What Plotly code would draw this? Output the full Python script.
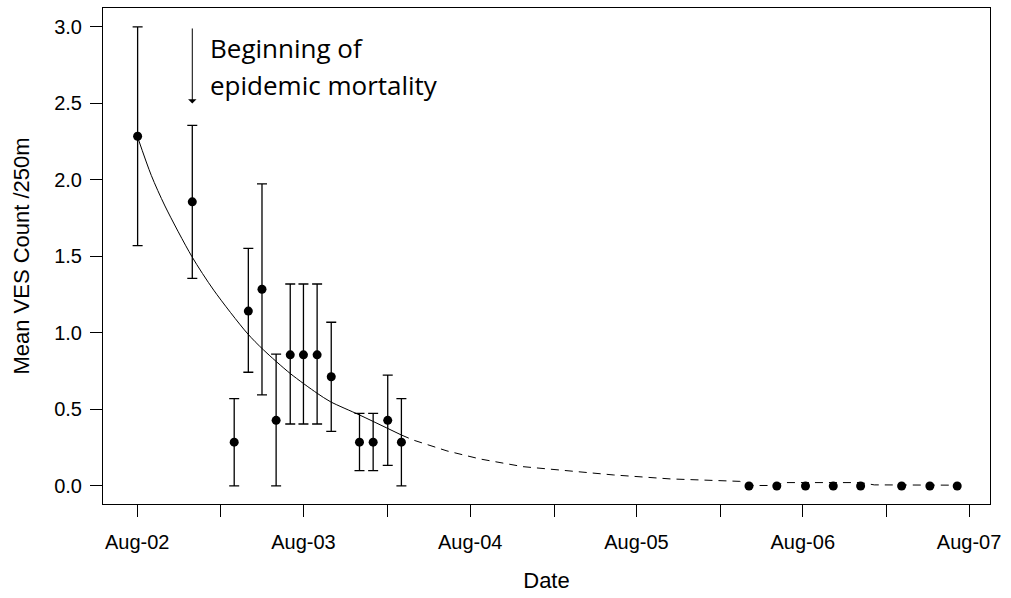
import plotly.graph_objects as go

# Observed survey means with 95% CI bounds
obs_dates = ["2002-08-02", "2002-11-30", "2003-03-02", "2003-04-02", "2003-05-02",
             "2003-06-02", "2003-07-03", "2003-08-01", "2003-08-31", "2003-10-01",
             "2003-12-02", "2004-01-01", "2004-02-02", "2004-03-03"]
obs_mean = [2.286, 1.857, 0.286, 1.143, 1.286, 0.429, 0.857, 0.857, 0.857, 0.714,
            0.286, 0.286, 0.429, 0.286]
obs_upper = [3.0, 2.357, 0.571, 1.553, 1.974, 0.861, 1.32, 1.32, 1.32, 1.07,
             0.475, 0.475, 0.725, 0.571]
obs_lower = [1.571, 1.357, 0.0, 0.743, 0.595, 0.0, 0.405, 0.405, 0.405, 0.357,
             0.10, 0.10, 0.135, 0.0]

# Later surveys with zero counts
zero_dates = ["2006-04-05", "2006-06-05", "2006-08-07", "2006-10-07", "2006-12-06",
              "2007-03-06", "2007-05-07", "2007-07-06"]
zero_vals = [0, 0, 0, 0, 0, 0, 0, 0]

# Fitted decline (solid over observed period, dashed projection)
fit_dates = ["2002-08-02", "2002-09-01", "2002-10-01", "2002-11-29", "2003-01-16",
             "2003-03-30", "2003-05-05", "2003-07-03", "2003-08-31", "2003-09-29",
             "2003-12-02", "2004-03-03"]
fit_vals = [2.28, 2.03, 1.83, 1.50, 1.28, 1.00, 0.89, 0.735, 0.606, 0.551,
            0.464, 0.333]

proj_dates = ["2004-03-03", "2004-03-29", "2004-06-11", "2004-08-23", "2004-11-25",
              "2005-02-14", "2005-06-11", "2005-10-14", "2006-03-16", "2006-04-05",
              "2006-06-05", "2006-06-20", "2006-12-06", "2007-01-05", "2007-07-06"]
proj_vals = [0.333, 0.30, 0.229, 0.176, 0.126, 0.105, 0.072, 0.046, 0.03, 0.003,
             0.003, 0.022, 0.022, 0.007, 0.005]

annot_lines = ["Beginning of", "epidemic mortality"]

err_plus = [u - m for u, m in zip(obs_upper, obs_mean)]
err_minus = [m - l for m, l in zip(obs_mean, obs_lower)]

fig = go.Figure()
fig.add_trace(go.Scatter(x=fit_dates, y=fit_vals, mode="lines",
                         line=dict(color="black", width=1, shape="spline",
                                   smoothing=0.8),
                         showlegend=False, hoverinfo="skip"))
fig.add_trace(go.Scatter(x=proj_dates, y=proj_vals, mode="lines",
                         line=dict(color="black", width=1, dash="8px,6px"),
                         showlegend=False, hoverinfo="skip"))
fig.add_trace(go.Scatter(x=obs_dates, y=obs_mean, mode="markers",
                         marker=dict(color="black", size=9),
                         error_y=dict(type="data", symmetric=False, array=err_plus,
                                      arrayminus=err_minus, color="black",
                                      thickness=1.3, width=5),
                         showlegend=False))
fig.add_trace(go.Scatter(x=zero_dates, y=zero_vals, mode="markers",
                         marker=dict(color="black", size=9), showlegend=False))

arrow_date = "2002-11-30"
fig.add_annotation(x=arrow_date, y=2.5, ax=arrow_date, ay=3.0, xref="x", yref="y",
                   axref="x", ayref="y", showarrow=True, arrowhead=1,
                   arrowsize=1.4, arrowwidth=1, arrowcolor="black", text="",
                   standoff=0, startstandoff=0)
for yy, line in zip([0.919, 0.845], annot_lines):
    fig.add_annotation(x=0.118, y=yy, xref="paper", yref="paper",
                       xanchor="left", yanchor="middle", align="left",
                       showarrow=False, text=line,
                       font=dict(family="Open Sans", size=26, color="black"))

fig.update_layout(
    width=1011, height=598,
    margin=dict(l=103, r=21, t=8, b=94),
    plot_bgcolor="white", paper_bgcolor="white",
    font=dict(family="Liberation Sans, Arial", color="black", size=20),
)
fig.update_xaxes(
    type="date", range=["2002-05-18", "2007-09-16"],
    tick0="2002-08-01", dtick="M12", tickformat="%b-%y",
    ticks="outside", ticklen=12, tickcolor="black", tickwidth=1,
    minor=dict(dtick="M6", tick0="2002-08-01", ticks="outside", ticklen=12,
               tickcolor="black", tickwidth=1, showgrid=False),
    showline=True, mirror=True, linecolor="black", linewidth=1,
    showgrid=False, zeroline=False,
    tickfont=dict(size=20), ticklabelstandoff=8,
    title=dict(text="Date", font=dict(size=22), standoff=20),
)
fig.update_yaxes(
    range=[-0.118, 3.124], tickvals=[0, 0.5, 1.0, 1.5, 2.0, 2.5, 3.0],
    tickformat=".1f",
    ticks="outside", ticklen=12, tickcolor="black", tickwidth=1,
    showline=True, mirror=True, linecolor="black", linewidth=1,
    showgrid=False, zeroline=False,
    tickfont=dict(size=20), ticklabelstandoff=4,
    title=dict(text="Mean VES Count /250m", font=dict(size=22), standoff=18),
)

fig.write_html("out.html")
